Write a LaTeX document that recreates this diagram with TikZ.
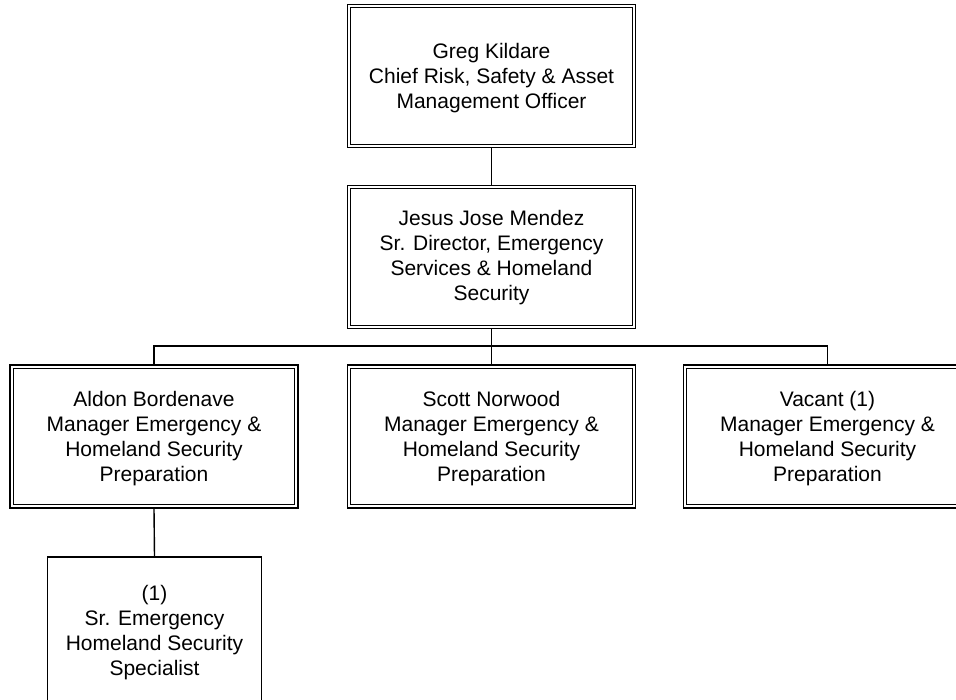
\documentclass[tikz,border=0pt]{standalone}
\usepackage{fontspec}
\setmainfont{Liberation Sans}
\begin{document}
\begin{tikzpicture}[x=1pt,y=-1pt,
  dbox/.style={draw, line width=1.5pt, minimum width=288pt, minimum height=143pt, inner sep=0pt},
  sbox/.style={draw, line width=1.4pt, minimum width=214pt, minimum height=146pt, inner sep=0pt},
  txt/.style={align=center, inner sep=0pt, font=\fontsize{21}{25}\selectfont},
  conn/.style={line width=1.4pt},
  inner/.style={line width=0.9pt}]
\clip (0,0) rectangle (956,699);
\fill[white] (0,0) rectangle (956,699);
% boxes
\node[dbox] (b1) at (491.5,76) {};
\node[dbox] (b2) at (491.5,257) {};
\node[dbox] (b3) at (154,436.5) {};
\node[dbox] (b4) at (491.5,436.5) {};
\node[dbox] (b5) at (827.5,436.5) {};
\node[sbox] (b6) at (154.5,630) {};
\foreach \n in {b1,b2,b3,b4,b5}
  \draw[inner] ([shift={(4,-4)}]\n.south west) rectangle ([shift={(-4,4)}]\n.north east);
% texts
\node[txt] (t1) at (491.5,78.3) {\strut Greg Kildare\\Chief Risk, Safety \& Asset\\Management Officer\strut};
\node[txt] (t2) at (491.5,258.2) {\strut Jesus Jose Mendez\\Sr. Director, Emergency\\Services \& Homeland\\Security\strut};
\node[txt] (t3) at (154,438.5) {\strut Aldon Bordenave\\Manager Emergency \&\\Homeland Security\\Preparation\strut};
\node[txt] (t4) at (491.5,438.5) {\strut Scott Norwood\\Manager Emergency \&\\Homeland Security\\Preparation\strut};
\node[txt] (t5) at (827.5,438.5) {\strut Vacant (1)\\Manager Emergency \&\\Homeland Security\\Preparation\strut};
\node[txt] (t6) at (154.5,632.5) {\strut (1)\\Sr. Emergency\\Homeland Security\\Specialist\strut};
% connectors
\coordinate (bus) at (0,346);
\draw[conn] (b1.south) -- (b2.north);
\draw[conn] (b2.south) -- (b4.north);
\draw[conn] (b3.north) -- (b3.north |- bus) -- (b5.north |- bus) -- (b5.north);
\draw[conn] (b3.south) -- (b6.north);
\end{tikzpicture}
\end{document}
